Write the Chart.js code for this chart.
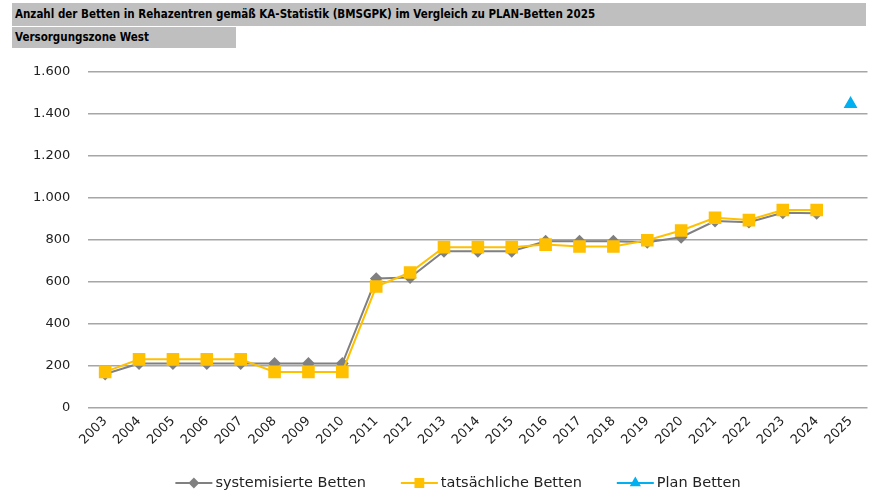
<!DOCTYPE html>
<html>
<head>
<meta charset="utf-8">
<script src="https://cdn.jsdelivr.net/npm/chart.js@4"></script>
<style>
  html, body { margin: 0; padding: 0; background: #fff; }
  #wrap { position: relative; width: 870px; height: 495px; overflow: hidden; }
  .hdr { position: absolute; left: 12px; background: #bfbfbf; color: #000;
         font-family: "DejaVu Sans", sans-serif; font-weight: bold; font-size: 11.5px; font-stretch: condensed;
         box-sizing: border-box; padding-left: 3px; line-height: 22px; white-space: nowrap; }
  #h1 { top: 3px; width: 854px; height: 23px; }
  #h2 { top: 27px; width: 224px; height: 21px; line-height: 21px; }
  canvas { position: absolute; left: 0; top: 0; }
</style>
</head>
<body>
<div id="wrap">
  <canvas id="c" width="877" height="495"></canvas>
  <div class="hdr" id="h1">Anzahl der Betten in Rehazentren gemäß KA-Statistik (BMSGPK) im Vergleich zu PLAN-Betten 2025</div>
  <div class="hdr" id="h2">Versorgungszone West</div>
</div>
<script>
const years = ["2003","2004","2005","2006","2007","2008","2009","2010","2011","2012","2013","2014","2015","2016","2017","2018","2019","2020","2021","2022","2023","2024","2025"];
const systemisierteBetten = [160,210,210,210,210,210,210,210,615,620,745,745,745,793,793,793,788,812,889,884,929,926,null];
const tatsaechlicheBetten = [170,230,230,230,230,170,170,170,577,644,765,765,765,777,768,768,798,844,905,894,942,942,null];
const planBetten = [null,null,null,null,null,null,null,null,null,null,null,null,null,null,null,null,null,null,null,null,null,null,1447];
const yTicks = [0,200,400,600,800,1000,1200,1400,1600];
const seriesNames = ["systemisierte Betten","tatsächliche Betten","Plan Betten"];

const FONT = "DejaVu Sans";

function fmt(v){ return String(v).replace(/\B(?=(\d{3})+(?!\d))/g, "."); }

const legendPlugin = {
  id: 'customLegend',
  afterDraw(chart) {
    const ctx = chart.ctx;
    const items = chart.data.datasets;
    const lineLen = 37, gapText = 3, gapItem = 35, y = 483;
    ctx.save();
    ctx.font = "14.5px '" + FONT + "'";
    let total = 0;
    const widths = items.map(d => ctx.measureText(d.label).width);
    widths.forEach((w,i) => { total += lineLen + gapText + w + (i < widths.length-1 ? gapItem : 0); });
    let x = 458 - total/2;
    items.forEach((d,i) => {
      ctx.strokeStyle = d.borderColor; ctx.lineWidth = 2;
      ctx.beginPath(); ctx.moveTo(x, y); ctx.lineTo(x+lineLen, y); ctx.stroke();
      ctx.fillStyle = d.pointBackgroundColor; ctx.strokeStyle = d.pointBackgroundColor;
      Chart.helpers.drawPoint(ctx, {pointStyle: d.pointStyle, radius: d.legendRadius, borderWidth: 1, rotation: 0}, x+lineLen/2, y);
      ctx.fillStyle = "#222"; ctx.textBaseline = "middle"; ctx.textAlign = "left";
      ctx.fillText(d.label, x + lineLen + gapText, y);
      x += lineLen + gapText + widths[i] + gapItem;
    });
    ctx.restore();
  }
};

new Chart(document.getElementById('c'), {
  type: 'line',
  data: {
    labels: years,
    datasets: [
      { label: seriesNames[0], data: systemisierteBetten, borderColor: '#808080', backgroundColor: '#808080',
        pointBackgroundColor: '#808080', pointBorderColor: '#808080', pointStyle: 'rectRot', pointRadius: 5,
        legendRadius: 4, borderWidth: 2, tension: 0, order: 2 },
      { label: seriesNames[1], data: tatsaechlicheBetten, borderColor: '#FFC000', backgroundColor: '#FFC000',
        pointBackgroundColor: '#FFC000', pointBorderColor: '#FFC000', pointStyle: 'rect', pointRadius: 7.5,
        legendRadius: 5.5, borderWidth: 2, tension: 0, order: 1 },
      { label: seriesNames[2], data: planBetten, borderColor: '#00B0F0', backgroundColor: '#00B0F0',
        pointBackgroundColor: '#00B0F0', pointBorderColor: '#00B0F0', pointStyle: 'triangle', pointRadius: 6,
        legendRadius: 4.5, borderWidth: 2, tension: 0, order: 0 }
    ]
  },
  options: {
    responsive: false,
    animation: false,
    layout: { padding: { top: 72, left: 15, right: 0, bottom: 41 } },
    plugins: { legend: { display: false }, tooltip: { enabled: false }, title: { display: false } },
    scales: {
      x: {
        offset: true,
        grid: { display: false, drawTicks: false },
        border: { display: false },
        afterFit: (s) => { s.paddingRight = 0; },
        ticks: { font: { family: FONT, size: 13 }, color: '#222', maxRotation: 45, minRotation: 45, padding: 6, autoSkip: false }
      },
      y: {
        min: 0, max: 1600,
        afterBuildTicks: (s) => { s.ticks = yTicks.map(v => ({ value: v })); },
        grid: { color: '#a6a6a6', lineWidth: 1.5, drawTicks: false },
        border: { display: false },
        ticks: { font: { family: FONT, size: 13 }, color: '#222', padding: 18, callback: (v) => fmt(v) }
      }
    }
  },
  plugins: [legendPlugin]
});
</script>
</body>
</html>
